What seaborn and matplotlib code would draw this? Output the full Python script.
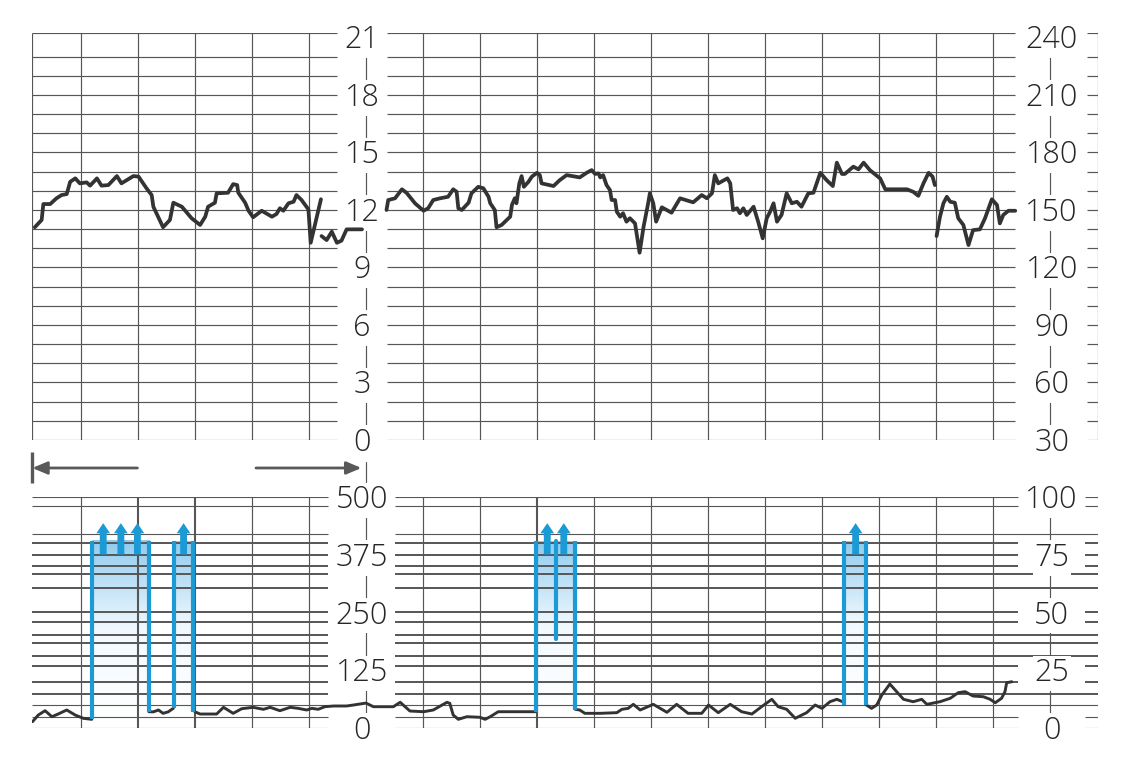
import numpy as np
import pandas as pd
import matplotlib
matplotlib.use("Agg")
import matplotlib.pyplot as plt
import matplotlib.transforms as mtransforms
import seaborn as sns
from matplotlib.colors import LinearSegmentedColormap
from matplotlib.patches import FancyArrow

# ---------------- data (time in minutes) ----------------
# fetal heart rate trace (bpm), four pen segments
fhr_seg1_t = [0.19, 0.31, 0.34, 0.46, 0.57, 0.66, 0.75, 0.81, 0.90, 0.98, 1.10, 1.16, 1.28, 1.36, 1.48,
              1.63, 1.71, 1.92, 2.01, 2.15, 2.24, 2.27, 2.44, 2.56, 2.62, 2.77, 2.94, 3.09, 3.18, 3.23,
              3.35, 3.38, 3.58, 3.67, 3.74, 3.76, 3.88, 3.94, 4.02, 4.17, 4.35, 4.43, 4.49, 4.55, 4.64,
              4.73, 4.78, 4.87, 4.99, 5.03, 5.21]
fhr_seg1_bpm = [141.0, 144.8, 153.1, 153.1, 156.1, 157.8, 158.3, 164.7, 166.5, 163.9, 164.4, 162.7, 166.5, 162.7, 163.0,
                167.7, 163.9, 167.7, 167.4, 161.3, 157.8, 151.7, 141.0, 144.8, 153.8, 151.7, 145.7, 142.2, 146.5, 151.7,
                153.8, 158.7, 159.0, 163.5, 163.0, 159.0, 153.8, 149.6, 146.2, 149.6, 146.5, 147.9, 150.9, 149.6, 153.5,
                154.3, 157.8, 155.2, 150.3, 132.9, 155.6]
fhr_seg2_t = [5.22, 5.31, 5.40, 5.49, 5.57, 5.66, 5.93]
fhr_seg2_bpm = [136.4, 134.3, 138.7, 132.9, 134.0, 139.9, 139.9]
fhr_seg3_t = [6.36, 6.39, 6.51, 6.63, 6.71, 6.86, 7.01, 7.09, 7.18, 7.30, 7.44, 7.53, 7.59, 7.62, 7.68,
              7.80, 7.85, 7.97, 8.06, 8.15, 8.18, 8.26, 8.29, 8.38, 8.47, 8.53, 8.56, 8.61, 8.64, 8.69,
              8.73, 8.77, 8.85, 8.91, 9.00, 9.05, 9.08, 9.29, 9.40, 9.52, 9.75, 9.87, 9.96, 10.02, 10.08,
              10.11, 10.16, 10.22, 10.28, 10.31, 10.37, 10.40, 10.46, 10.51, 10.57, 10.63, 10.72, 10.80, 10.87, 10.95,
              10.98, 11.04, 11.09, 11.19, 11.36, 11.51, 11.74, 11.89, 11.98, 12.07, 12.12, 12.18, 12.34, 12.39, 12.44,
              12.51, 12.56, 12.62, 12.68, 12.80, 12.88, 12.96, 13.03, 13.09, 13.15, 13.21, 13.29, 13.38, 13.47, 13.56,
              13.64, 13.76, 13.85, 13.97, 14.08, 14.19, 14.26, 14.35, 14.40, 14.55, 14.64, 14.73, 14.84, 14.96, 15.02,
              15.11, 15.49, 15.60, 15.69, 15.78, 15.87, 15.94, 15.98]
fhr_seg3_bpm = [150.0, 155.2, 156.1, 160.8, 159.0, 153.5, 149.6, 150.9, 155.2, 156.1, 156.9, 160.8, 159.5, 150.9, 150.0,
                153.8, 158.7, 162.1, 161.3, 156.9, 153.5, 150.0, 141.0, 142.2, 144.8, 146.5, 152.6, 156.1, 153.5, 163.9,
                167.7, 162.1, 164.7, 167.4, 169.4, 168.2, 163.9, 162.5, 165.6, 168.2, 167.0, 169.4, 170.8, 168.8, 169.1,
                167.0, 168.2, 163.0, 160.4, 155.2, 155.2, 149.1, 146.5, 148.3, 143.9, 145.7, 143.0, 127.7, 141.3, 153.5,
                158.7, 153.5, 143.9, 151.4, 148.6, 156.1, 154.0, 157.8, 156.1, 158.7, 168.2, 163.9, 166.5, 163.9, 150.0,
                150.9, 148.3, 150.9, 147.4, 151.7, 143.9, 135.2, 145.7, 149.1, 153.5, 143.9, 147.4, 158.7, 153.5, 154.3,
                151.7, 158.7, 159.0, 169.4, 165.6, 162.5, 174.7, 168.8, 168.8, 172.6, 171.2, 174.7, 170.8, 167.9, 166.5,
                160.8, 160.8, 159.5, 157.4, 163.9, 169.4, 167.4, 163.0]
fhr_seg4_t = [16.01, 16.07, 16.13, 16.19, 16.25, 16.33, 16.39, 16.48, 16.57, 16.65, 16.77, 16.86, 16.98, 17.07,
              17.12, 17.18, 17.27, 17.39]
fhr_seg4_bpm = [136.4, 146.5, 153.5, 156.9, 154.3, 153.8, 145.7, 142.2, 131.7, 139.5, 139.9, 145.7, 155.6, 152.6,
                143.0, 147.4, 149.6, 149.6]

# uterine activity trace (0-500 scale), five pen segments
ua_seg1_t = [0.15, 0.25, 0.37, 0.49, 0.60, 0.75, 0.90, 1.04, 1.19]
ua_seg1_v = [13.7, 28.0, 37.5, 24.5, 30.3, 39.0, 28.0, 21.0, 18.8]
ua_seg2_t = [2.19, 2.27, 2.36, 2.44, 2.53, 2.62]
ua_seg2_v = [35.3, 35.0, 39.0, 31.8, 35.0, 42.6]
ua_seg3_t = [3.00, 3.09, 3.38, 3.50, 3.67, 3.82, 4.02, 4.20, 4.32, 4.49, 4.67, 4.81, 4.96, 5.05, 5.16, 5.28, 5.43,
             5.66, 5.78, 6.00, 6.13, 6.48, 6.60, 6.77, 7.01, 7.18, 7.42, 7.47, 7.53, 7.62, 7.77, 8.00, 8.09,
             8.18, 8.32, 8.58, 8.97]
ua_seg3_v = [35.0, 30.3, 30.3, 44.8, 31.8, 41.8, 44.8, 40.5, 44.8, 37.5, 44.8, 42.6, 39.0, 42.6, 40.5, 46.2, 47.7,
             47.7, 49.8, 54.0, 46.2, 46.2, 55.7, 36.8, 35.3, 39.0, 55.7, 53.5, 28.2, 18.8, 24.5, 23.2, 18.8,
             24.5, 35.3, 35.3, 35.3]
ua_seg4_t = [9.67, 9.75, 9.84, 10.11, 10.40, 10.49, 10.60, 10.69, 10.81, 11.04, 11.28, 11.45, 11.65, 11.89, 12.01,
             12.18, 12.39, 12.59, 12.77, 12.94, 13.12, 13.23, 13.38, 13.53, 13.73, 13.88, 14.00, 14.14, 14.26, 14.36]
ua_seg4_v = [40.5, 39.0, 31.8, 31.8, 33.2, 40.5, 42.6, 51.3, 39.0, 51.3, 34.0, 51.3, 31.8, 31.8, 49.8,
             33.2, 51.3, 35.3, 30.3, 46.2, 62.2, 46.2, 40.5, 21.0, 33.2, 49.8, 42.6, 57.0, 62.2, 57.0]
ua_seg5_t = [14.78, 14.87, 14.96, 15.05, 15.19, 15.31, 15.43, 15.60, 15.75, 15.84, 16.07, 16.25, 16.39, 16.51,
             16.65, 16.83, 16.95, 17.04, 17.15, 17.21, 17.24, 17.33]
ua_seg5_v = [49.8, 42.6, 49.8, 71.5, 95.3, 78.7, 62.2, 57.0, 62.2, 51.3, 57.0, 64.4, 76.5, 78.7,
             69.3, 67.8, 62.2, 54.8, 64.4, 78.7, 98.2, 100.3]

# movement events (blue blocks) and arrow markers
ev_start = [1.19, 2.63, 8.98, 14.39]
ev_end = [2.19, 2.97, 9.67, 14.78]
ev_base_start = [19.0, 42.6, 35.3, 49.8]
ev_base_end = [35.3, 35.3, 39.0, 49.8]
ev_top = [405, 405, 405, 405]
arrow_t = [1.39, 1.70, 1.99, 2.80, 9.18, 9.47, 14.59]
arrow_from = 376
arrow_to = 444
split_t = [9.33]
split_bottom = [192]

# axis labels
top_left_labels = ["21", "18", "15", "12", "9", "6", "3", "0"]
top_right_labels = ["240", "210", "180", "150", "120", "90", "60", "30"]
top_label_bpm = [240, 210, 180, 150, 120, 90, 60, 30]
bot_left_labels = ["500", "375", "250", "125", "0"]
bot_right_labels = ["100", "75", "50", "25", "0"]
bot_label_v = [500, 375, 250, 125, 0]

# time-span annotation between panels
span_start, span_left_end, span_right_start, span_end = 0.146, 1.99, 4.07, 5.92

# ---------------- style / layout ----------------
W, H = 1134, 763
X0, X1 = 0.146, 18.842
TOP_Y0, TOP_Y1 = 30, 242.6
GRID = "#565656"
INK = "#333333"
BLUE = "#1b9ad6"
LABEL_COL_L, LABEL_COL_R = 6.0, 18.0
LABEL_X_L, LABEL_X_R = 5.93, 18.03

sns.set_style("white")
plt.rcParams["font.family"] = ["Open Sans", "DejaVu Sans"]

fig = plt.figure(figsize=(W / 100, H / 100), dpi=100)


def px_axes(x0, y0, x1, y1):
    return fig.add_axes([x0 / W, 1 - y1 / H, (x1 - x0) / W, (y1 - y0) / H])


ax_top = px_axes(32.3, 32.5, 1098, 440)
ax_bot = px_axes(32.3, 497.3, 1098, 728)

# ---------- top panel grid ----------
top_h = list(range(30, 240, 10)) + [TOP_Y1]
for a, b in [(X0, 5.491), (6.363, 17.386), (18.649, X1)]:
    ax_top.hlines(top_h, a, b, colors=GRID, lw=0.85, zorder=1)
ax_top.vlines(list(range(1, 19)) + [X0, X1], TOP_Y0, TOP_Y1, colors=GRID, lw=0.85, zorder=1)

# ---------- bottom panel grid ----------
bot_thick_gapped = [401.5, 376, 351, 252, 229, 134, 99]
bot_thick_full = [333, 304, 201.5, 183.5, 156.7, 73.7]
bot_thin_gapped = [500, 481, 23.2, 0]
bot_thin_full = [420, 49.8]
gl, gr = (5.333, 6.509), (17.439, 18.614)
for ys, lw in [(bot_thick_gapped, 1.4), (bot_thin_gapped, 0.8)]:
    for a, b in [(X0, gl[0]), (gl[1], gr[0]), (gr[1], X1)]:
        ax_bot.hlines(ys, a, b, colors=GRID, lw=lw, zorder=1)
for ys, lw in [(bot_thick_full, 1.4), (bot_thin_full, 0.8)]:
    for a, b in [(X0, gl[0]), (gl[1], X1)]:
        ax_bot.hlines(ys, a, b, colors=GRID, lw=lw, zorder=1)
vt_thin = [1, 4, 5, 6, 7, 8, 10, 11, 12, 13, 14, 15, 16, 17, 18]
vt_thick = [2, 3, 9]
ax_bot.vlines(vt_thin, 0, 500, colors=GRID, lw=0.85, zorder=1)
ax_bot.vlines(vt_thick, 0, 500, colors=GRID, lw=1.5, zorder=1)

# ---------- traces ----------
fhr_df = pd.concat([
    pd.DataFrame({"t": t, "bpm": v, "seg": i})
    for i, (t, v) in enumerate([(fhr_seg1_t, fhr_seg1_bpm), (fhr_seg2_t, fhr_seg2_bpm),
                                (fhr_seg3_t, fhr_seg3_bpm), (fhr_seg4_t, fhr_seg4_bpm)])
])
sns.lineplot(data=fhr_df, x="t", y="bpm", units="seg", estimator=None, sort=False,
             color=INK, lw=2.7, ax=ax_top, legend=False, zorder=7,
             solid_joinstyle="round", solid_capstyle="round")

ua_df = pd.concat([
    pd.DataFrame({"t": t, "v": v, "seg": i})
    for i, (t, v) in enumerate([(ua_seg1_t, ua_seg1_v), (ua_seg2_t, ua_seg2_v), (ua_seg3_t, ua_seg3_v),
                                (ua_seg4_t, ua_seg4_v), (ua_seg5_t, ua_seg5_v)])
])
sns.lineplot(data=ua_df, x="t", y="v", units="seg", estimator=None, sort=False,
             color=INK, lw=2.1, ax=ax_bot, legend=False, zorder=3,
             solid_joinstyle="round", solid_capstyle="round")

# ---------- movement blocks ----------
cmap = LinearSegmentedColormap.from_list("fade", ["#ffffff", "#f2f9fe", "#8fcbef"])
grad = np.linspace(0, 1, 256).reshape(-1, 1)
for s, e, b0, b1, top in zip(ev_start, ev_end, ev_base_start, ev_base_end, ev_top):
    ax_bot.imshow(grad, extent=[s, e, min(b0, b1), top], origin="lower", cmap=cmap,
                  aspect="auto", zorder=0.5, interpolation="bilinear")
    ax_bot.plot([s, s], [b0, top], color=BLUE, lw=3.0, zorder=4, solid_capstyle="butt")
    ax_bot.plot([e, e], [b1, top], color=BLUE, lw=3.0, zorder=4, solid_capstyle="butt")
for t, b in zip(split_t, split_bottom):
    ax_bot.plot([t, t], [b, ev_top[0]], color=BLUE, lw=3.0, zorder=4)
for t in arrow_t:
    ax_bot.add_patch(FancyArrow(t, arrow_from, 0, arrow_to - arrow_from, width=0.12,
                                head_width=0.24, head_length=22, length_includes_head=True,
                                color=BLUE, lw=0, zorder=4))

# ---------- labels ----------
lab = dict(ha="center", va="center", fontsize=22, color="#262626", fontweight="light",
           bbox=dict(fc="white", ec="none", pad=1.2), zorder=6)
for ax, l1, l2, ys in [(ax_top, top_left_labels, top_right_labels, top_label_bpm),
                       (ax_bot, bot_left_labels, bot_right_labels, bot_label_v)]:
    tr = mtransforms.offset_copy(ax.transData, fig=fig, y=-3.0, units="dots")
    for s1, s2, y in zip(l1, l2, ys):
        ax.text(LABEL_X_L, y, s1, transform=tr, **lab)
        ax.text(LABEL_X_R, y, s2, transform=tr, **lab)

# ---------- span arrows between panels ----------
ARW = "#595959"
ax_top.annotate("", xy=(span_start, 15.4), xytext=(span_left_end, 15.4), annotation_clip=False,
                arrowprops=dict(arrowstyle="-|>,head_length=0.9,head_width=0.38", color=ARW,
                                lw=2.0, shrinkA=0, shrinkB=0))
ax_top.annotate("", xy=(span_end, 15.4), xytext=(span_right_start, 15.4), annotation_clip=False,
                arrowprops=dict(arrowstyle="-|>,head_length=0.9,head_width=0.38", color=ARW,
                                lw=2.0, shrinkA=0, shrinkB=0))
ax_top.plot([span_start, span_start], [7.6, 23.7], color=ARW, lw=2.4, clip_on=False,
            solid_capstyle="butt")
ax_top.plot([LABEL_COL_L, LABEL_COL_L], [8.1, 18.5], color=GRID, lw=0.85, clip_on=False)

for ax, yl in [(ax_top, (TOP_Y0, TOP_Y1)), (ax_bot, (0, 500))]:
    ax.set_xlim(X0, X1)
    ax.set_ylim(*yl)
    ax.axis("off")

fig.savefig("out.png", dpi=100)
